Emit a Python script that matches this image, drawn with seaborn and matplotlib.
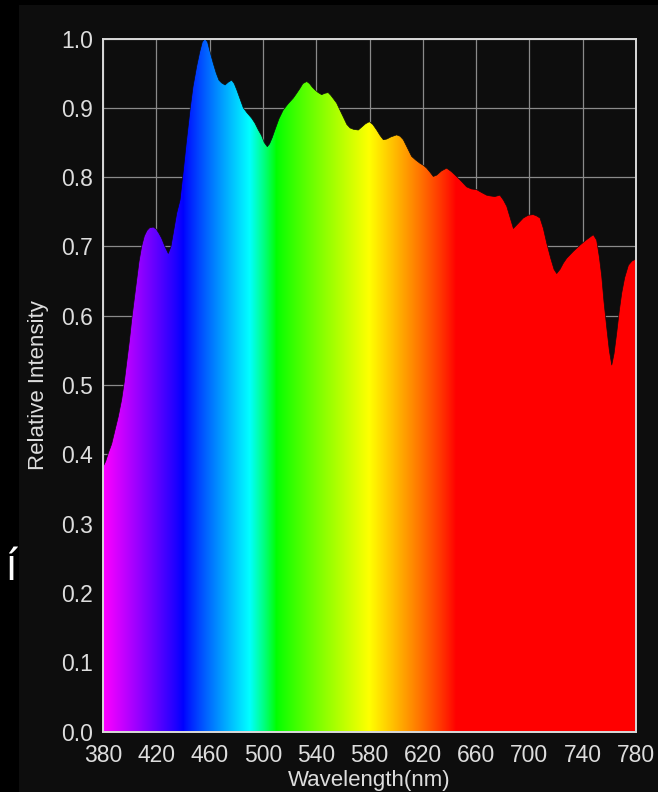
import numpy as np
import matplotlib
matplotlib.use("Agg")
import matplotlib.pyplot as plt
from matplotlib.patches import Rectangle
import seaborn as sns

# ---- data ----
wavelength = [380, 382, 384, 386.5, 389, 391.5, 394, 396, 398, 400, 401.5, 403.5, 405.3, 407, 409,
              411, 413, 415, 417.8, 420, 422, 424, 426.5, 429, 431, 433, 435.3, 437.8, 440.3, 442.5,
              445.3, 447.5, 450.3, 452.5, 454.5, 456.5, 458.5, 460.5, 462.8, 465, 467, 469, 471.6,
              474, 476.6, 478.5, 480.4, 483, 485.3, 488, 491.6, 494, 496.6, 499, 501, 503.3, 505,
              507, 509, 512, 515.3, 519, 522.8, 525, 527.8, 530, 532.9, 535, 537, 539, 541.5, 544.1,
              546.5, 549, 551, 553, 555.3, 558, 560.3, 563, 565.4, 568, 571.6, 574, 577, 579.9,
              582.5, 585.4, 588, 590.4, 593, 596, 600.4, 603, 605.4, 608.5, 611.6, 614.5, 617.9,
              620.5, 622.9, 625.5, 627.9, 630.5, 634, 637.9, 641.5, 645.4, 649, 652.9, 656.5, 660.4,
              664, 667.9, 670.4, 674, 677.9, 680.5, 683, 685.5, 688, 691.5, 695.4, 699, 702.9, 705.5,
              708, 710.5, 713, 716, 718.5, 720.5, 723, 725.5, 728, 733, 738, 743, 748, 750.5, 752.5,
              754.3, 756, 758, 760, 761.8, 763.5, 765.5, 767.5, 769.3, 771.5, 774.3, 777, 780]
intensity = [0.382, 0.390, 0.402, 0.415, 0.435, 0.455, 0.479, 0.505, 0.536, 0.567, 0.594, 0.625, 0.652, 0.678, 0.700,
             0.715, 0.723, 0.727, 0.728, 0.725, 0.719, 0.712, 0.700, 0.690, 0.700, 0.722, 0.748, 0.767, 0.810, 0.850,
             0.897, 0.930, 0.960, 0.980, 0.995, 1.000, 0.995, 0.980, 0.964, 0.950, 0.940, 0.936, 0.933,
             0.937, 0.940, 0.935, 0.926, 0.912, 0.900, 0.893, 0.885, 0.878, 0.868, 0.860, 0.850, 0.844, 0.848,
             0.857, 0.868, 0.884, 0.897, 0.906, 0.914, 0.920, 0.928, 0.935, 0.938, 0.935, 0.930, 0.926, 0.922, 0.919,
             0.921, 0.922, 0.918, 0.913, 0.907, 0.896, 0.887, 0.876, 0.871, 0.869, 0.868, 0.872, 0.877, 0.880,
             0.876, 0.868, 0.860, 0.854, 0.855, 0.858, 0.861, 0.859, 0.854, 0.842, 0.830, 0.825, 0.820,
             0.817, 0.813, 0.807, 0.801, 0.803, 0.809, 0.813, 0.808, 0.801, 0.794, 0.786, 0.783, 0.782,
             0.778, 0.774, 0.773, 0.772, 0.774, 0.767, 0.758, 0.742, 0.726, 0.733, 0.741, 0.745, 0.746, 0.744,
             0.741, 0.726, 0.705, 0.683, 0.667, 0.661, 0.667, 0.676, 0.683, 0.693, 0.702, 0.710, 0.717, 0.709, 0.685,
             0.657, 0.620, 0.584, 0.550, 0.529, 0.545, 0.575, 0.608, 0.633, 0.655, 0.673, 0.679, 0.682]

x_ticks = [380, 420, 460, 500, 540, 580, 620, 660, 700, 740, 780]
y_ticks = [0.0, 0.1, 0.2, 0.3, 0.4, 0.5, 0.6, 0.7, 0.8, 0.9, 1.0]
x_label = "Wavelength(nm)"
y_label = "Relative Intensity"


def wl_rgb(w, gamma=0.9):
    if w < 440:
        r, g, b = -(w - 440) / 60.0, 0.0, 1.0
    elif w < 490:
        r, g, b = 0.0, (w - 440) / 50.0, 1.0
    elif w < 510:
        r, g, b = 0.0, 1.0, -(w - 510) / 20.0
    elif w < 580:
        r, g, b = (w - 510) / 70.0, 1.0, 0.0
    elif w < 645:
        r, g, b = 1.0, -(w - 645) / 65.0, 0.0
    else:
        r, g, b = 1.0, 0.0, 0.0
    return [max(0, r) ** gamma, max(0, g) ** gamma, max(0, b) ** gamma]


BG = "#0d0d0d"
sns.set_theme(style="dark", rc={
    "axes.facecolor": BG,
    "figure.facecolor": "#000000",
    "axes.edgecolor": "#d9d9d9",
    "text.color": "#dddddd",
    "axes.labelcolor": "#dddddd",
    "xtick.color": "#dddddd",
    "ytick.color": "#dddddd",
})
plt.rcParams["font.family"] = ["Liberation Sans", "DejaVu Sans"]

fig = plt.figure(figsize=(6.58, 7.92), dpi=100)
fig.patches.append(Rectangle((19 / 658, 0), 1, (792 - 5) / 792, transform=fig.transFigure,
                             facecolor=BG, edgecolor="none", zorder=-10))
ax = fig.add_axes([103 / 658, 1 - 731.7 / 792, (636 - 103) / 658, (731.7 - 38.5) / 792])

# outline of the spectrum through seaborn
sns.lineplot(x=wavelength, y=intensity, ax=ax, color=BG, linewidth=0.5, zorder=3)

# gradient fill clipped by area under curve
poly = ax.fill_between(wavelength, 0, intensity, color="none", linewidth=0)
grid_w = np.linspace(380, 780, 801)
img = np.array([[wl_rgb(w) for w in grid_w]])
im = ax.imshow(img, extent=[380, 780, 0, 1], aspect="auto", origin="lower",
               interpolation="bilinear", zorder=2)
im.set_clip_path(poly.get_paths()[0], transform=ax.transData)

ax.set_xlim(380, 780)
ax.set_ylim(0, 1)
ax.set_xticks(x_ticks)
ax.set_yticks(y_ticks)
ax.set_yticklabels([f"{v:.1f}" for v in y_ticks])
ax.set_axisbelow(True)
ax.grid(True, color="#8a8a8a", linewidth=0.9)
for s in ax.spines.values():
    s.set_visible(True)
    s.set_color("#d9d9d9")
    s.set_linewidth(1.4)
    s.set_zorder(4)
ax.tick_params(axis="x", length=4, width=1, direction="out", pad=5, labelsize=16.5, colors="#dddddd")
ax.tick_params(axis="y", length=0, pad=7, labelsize=16.5, colors="#dddddd")
ax.set_xlabel(x_label, fontsize=16, labelpad=2, color="#dddddd")
ax.set_ylabel(y_label, fontsize=16, labelpad=9, color="#dddddd")

fig.text(12 / 658, 1 - 580 / 792, "í", color="white", fontsize=32, ha="center", va="baseline",
         family=["Open Sans", "DejaVu Sans"])

fig.savefig("out.png", dpi=100, facecolor=fig.get_facecolor())
